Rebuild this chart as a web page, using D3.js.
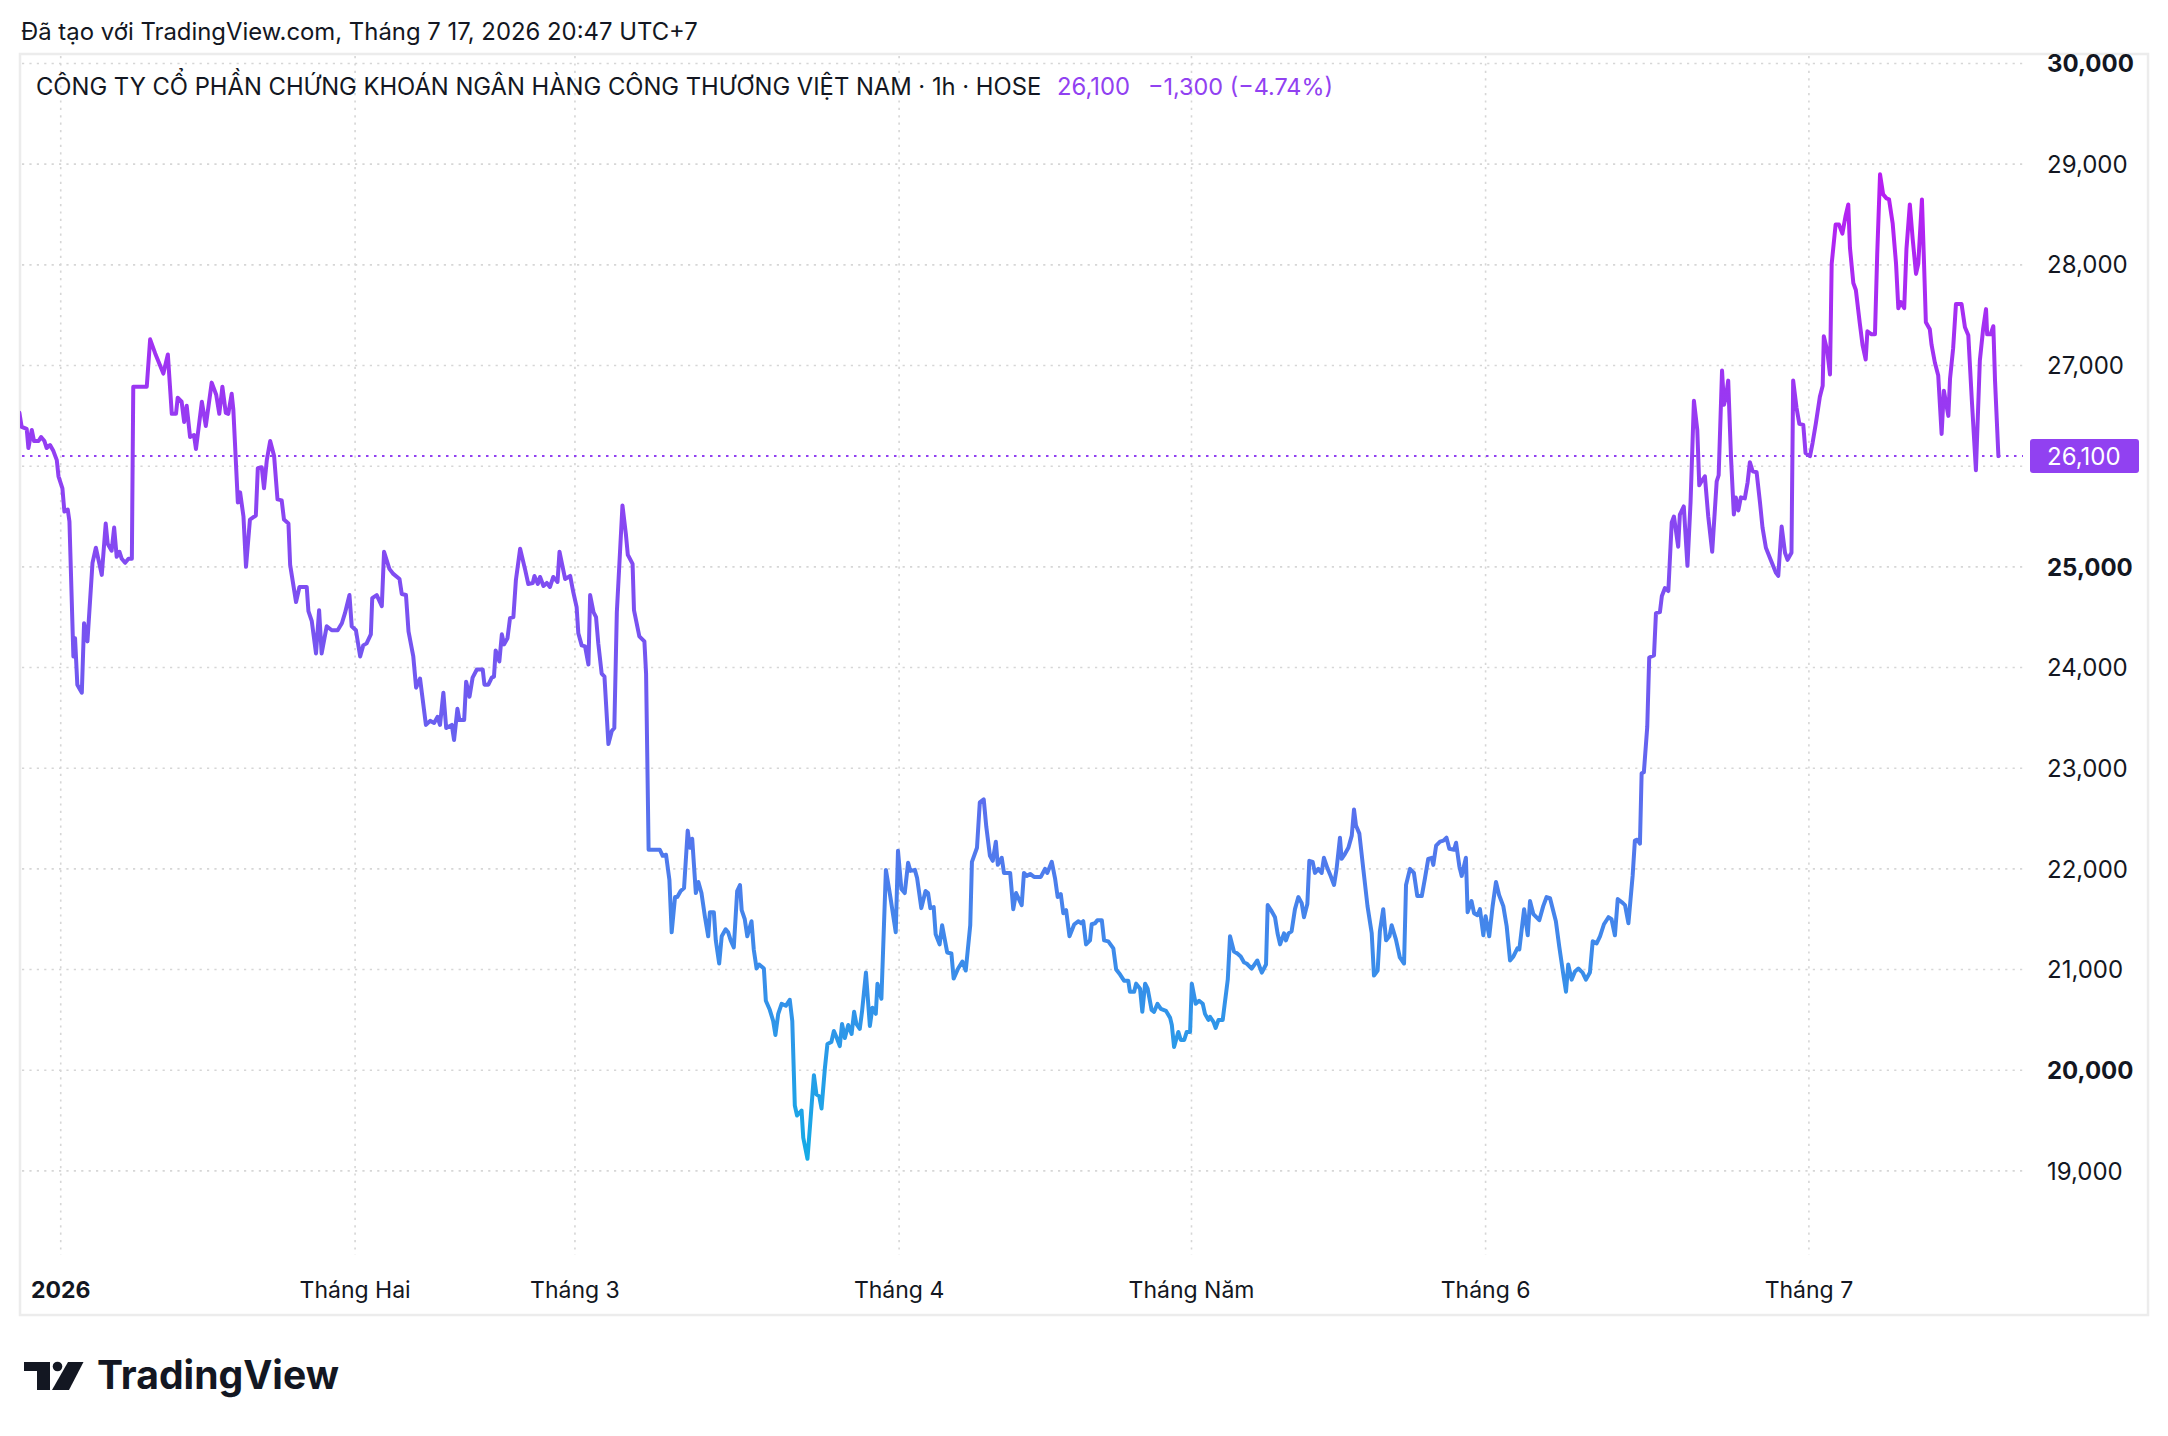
<!DOCTYPE html>
<html>
<head>
<meta charset="utf-8">
<script src="https://cdn.jsdelivr.net/npm/d3@7"></script>
<style>
    body { margin: 0; background: #fff; }
    svg { display: block; font-family: Inter, "Noto Sans", sans-serif; }
</style>
</head>
<body>
<div class="container"></div>
<script>
// hourly bars counted from the first bar on screen, with the close
const leg1Bars = [0, 0.8, 2.6, 3.2, 4.4, 5.2, 6.8, 7.7, 8.9, 9.7,
    10.9, 12.1, 13.3, 13.9, 15.3, 16.0, 17.2, 17.8, 19.2, 19.8,
    20.6, 22.2, 23.0, 24.2, 26.0, 27.2, 29.3, 30.7, 31.4, 32.8,
    33.7, 34.6, 35.6, 36.4, 37.6, 38.8, 40.0, 40.5, 45.3, 46.5,
    48.3, 51.2, 52.8, 54.2, 55.7, 56.3, 57.7, 58.6, 59.5, 60.7,
    62.1, 62.8, 64.9, 66.3, 68.4, 70.0, 71.1, 72.2, 73.4, 74.3,
    75.5, 76.1, 77.7, 78.5, 79.7, 80.6, 82.0, 84.1, 84.8, 86.2,
    87.0, 88.0, 89.2, 90.6, 91.8, 93.3, 94.1, 95.7, 96.3, 98.4,
    99.6, 102.2, 102.8, 104.0, 105.5, 106.6, 107.5, 109.3, 111.1, 113.2,
    114.7, 115.8];
const leg1Close = [26530, 26390, 26370, 26180, 26360, 26250, 26250, 26290, 26250, 26180,
    26210, 26150, 26060, 25900, 25780, 25550, 25570, 25450, 24110, 24290,
    23830, 23750, 24440, 24260, 25040, 25190, 24920, 25430, 25230, 25160,
    25390, 25100, 25150, 25080, 25040, 25080, 25080, 26790, 26790, 27260,
    27120, 26920, 27110, 26520, 26520, 26680, 26640, 26440, 26600, 26290,
    26310, 26170, 26640, 26400, 26830, 26710, 26520, 26790, 26530, 26520,
    26720, 26560, 25640, 25740, 25500, 25000, 25470, 25510, 25980, 25990,
    25780, 26060, 26250, 26100, 25670, 25660, 25470, 25430, 25020, 24650,
    24800, 24800, 24560, 24460, 24140, 24570, 24140, 24410, 24370, 24370,
    24440, 24540];

const leg2Bars = [117.4, 118.2, 119.7, 121.2, 122.3, 123.5, 125.0, 125.5, 127.1, 128.9,
    129.7, 131.6, 133.0, 135.2, 136.0, 137.5, 138.4, 140.1, 141.1, 142.5,
    144.6, 146.1, 147.5, 148.7, 149.6, 150.8, 151.8, 153.8, 154.6, 155.8,
    156.5, 158.2, 158.9, 160.1, 161.2, 162.7, 164.8, 165.4, 166.8, 168.0,
    168.8, 169.4, 170.7, 171.6, 172.4, 173.6, 174.5, 175.7, 176.6, 178.1,
    179.9, 181.0, 182.6, 183.2, 184.4, 185.2, 186.4, 187.6, 188.7, 189.9,
    191.4, 192.1, 194.1, 195.9, 197.0, 198.2, 198.8, 200.0, 201.2, 202.4,
    203.0, 204.2, 205.1, 205.9, 207.1, 208.1, 209.5, 210.7, 211.6, 212.5,
    214.5, 215.7, 216.4, 218.1, 218.6, 220.5, 222.3, 222.9, 223.8];
const leg2Close = [24720, 24410, 24370, 24110, 24220, 24240, 24330, 24690, 24720, 24610,
    25150, 24980, 24930, 24880, 24730, 24720, 24360, 24110, 23800, 23890,
    23430, 23470, 23450, 23510, 23430, 23750, 23400, 23430, 23280, 23590,
    23480, 23480, 23860, 23710, 23900, 23980, 23980, 23830, 23830, 23900,
    23910, 24170, 24060, 24330, 24230, 24290, 24490, 24500, 24870, 25180,
    24970, 24830, 24840, 24910, 24830, 24900, 24810, 24840, 24800, 24900,
    24850, 25150, 24880, 24910, 24750, 24600, 24340, 24220, 24210, 24030,
    24720, 24550, 24500, 24240, 23940, 23910, 23240, 23370, 23400, 24550,
    25610, 25330, 25120, 25030, 24570, 24310, 24260, 23940, 22190];

const leg3Bars = [227.8, 228.8, 230.0, 231.2, 232.0, 233.2, 234.0, 235.2, 236.4, 237.7,
    238.5, 239.3, 240.6, 241.5, 242.6, 243.8, 245.0, 245.6, 247.0, 247.7,
    248.9, 249.8, 251.2, 252.1, 253.0, 254.1, 255.3, 256.3, 256.9, 258.0,
    258.9, 260.4, 261.2, 262.2, 263.1, 264.8, 265.5, 266.9, 268.1, 268.9,
    269.9, 271.1, 272.6, 274.0, 274.9, 275.8, 276.6, 278.2, 278.8, 280.3,
    282.6, 283.5, 284.5, 285.3, 286.5, 287.4, 288.8, 289.7, 290.6, 291.8,
    292.6, 293.6, 294.8, 296.0, 296.9, 297.7, 298.9, 299.7, 301.1, 302.5,
    303.4, 304.6, 305.2, 306.6, 308.2, 309.8, 311.7, 312.5, 313.7, 314.9,
    316.1, 316.9, 318.5, 319.3, 320.8, 322.3, 323.2, 324.0, 325.2, 325.9,
    327.3, 328.2, 330.0, 331.5, 332.3, 333.9, 335.4, 336.6, 338.2, 338.8,
    340.6, 341.6, 343.0, 343.9];
const leg3Close = [22190, 22130, 22140, 21890, 21370, 21720, 21720, 21780, 21810, 22380,
    22210, 22300, 21760, 21870, 21760, 21530, 21330, 21570, 21570, 21290,
    21060, 21330, 21400, 21370, 21290, 21220, 21780, 21840, 21590, 21500,
    21330, 21480, 21200, 21010, 21050, 21010, 20690, 20600, 20490, 20350,
    20560, 20660, 20640, 20700, 20490, 19650, 19550, 19600, 19330, 19120,
    19950, 19760, 19740, 19620, 20020, 20260, 20280, 20390, 20330, 20240,
    20460, 20320, 20450, 20360, 20580, 20460, 20410, 20580, 20970, 20440,
    20620, 20560, 20860, 20710, 21990, 21720, 21370, 22180, 21800, 21760,
    22060, 21980, 21990, 21910, 21610, 21780, 21760, 21610, 21620, 21350,
    21250, 21440, 21170, 21160, 20910, 21010, 21080, 20990, 21440, 22070,
    22210, 22660, 22690, 22420];

const leg4Bars = [345.2, 346.2, 347.3, 348.0, 349.4, 350.2, 352.4, 353.5, 354.5, 356.5,
    357.3, 358.3, 359.5, 360.9, 363.3, 364.8, 365.6, 367.2, 368.4, 369.3,
    370.4, 371.3, 372.3, 373.5, 375.2, 376.7, 377.6, 378.4, 379.4, 380.8,
    381.4, 382.6, 383.4, 385.0, 385.8, 387.3, 389.1, 390.1, 391.5, 392.9,
    394.4, 395.0, 396.5, 397.2, 398.6, 399.4, 400.4, 401.3, 402.7, 403.6,
    404.8, 406.0, 407.8, 409.3, 409.9, 410.7, 412.2, 413.1, 414.3, 415.2,
    416.4, 417.0, 418.4, 419.6, 420.9, 421.7, 422.9, 423.5, 424.7, 425.5,
    426.5, 428.0, 429.8, 430.6, 432.0, 433.2, 434.4, 435.6, 436.5, 438.3,
    440.3, 441.9, 443.4, 444.0, 445.4, 446.6, 447.5, 448.4, 449.8, 450.5,
    451.4, 452.5, 453.7, 454.9, 456.1, 456.9, 458.1, 458.8];
const leg4Close = [22130, 22080, 22270, 22040, 22110, 21960, 21960, 21600, 21760, 21640,
    21960, 21930, 21950, 21920, 21920, 22000, 21960, 22070, 21900, 21720,
    21750, 21560, 21590, 21330, 21450, 21480, 21460, 21480, 21250, 21290,
    21450, 21460, 21490, 21490, 21290, 21280, 21210, 21000, 20950, 20890,
    20890, 20780, 20780, 20860, 20810, 20580, 20860, 20810, 20600, 20580,
    20660, 20610, 20590, 20520, 20450, 20230, 20380, 20300, 20300, 20380,
    20380, 20860, 20660, 20690, 20660, 20560, 20500, 20530, 20480, 20420,
    20500, 20500, 20900, 21330, 21180, 21160, 21130, 21070, 21060, 21010,
    21090, 20970, 21050, 21640, 21580, 21520, 21360, 21250, 21360, 21290,
    21360, 21380, 21600, 21720, 21660, 21520, 21650, 22080];

const leg5Bars = [460.0, 460.8, 462.0, 463.2, 464.0, 465.2, 466.4, 467.6, 468.5, 469.7,
    470.3, 471.5, 472.7, 473.9, 474.7, 475.4, 476.6, 478.0, 479.5, 481.0,
    481.8, 483.1, 483.9, 485.1, 486.1, 487.3, 488.1, 489.6, 491.0, 492.5,
    493.2, 494.6, 496.0, 497.2, 498.8, 499.9, 501.1, 502.3, 502.9, 503.9,
    505.3, 506.5, 507.6, 508.6, 510.3, 511.0, 512.2, 513.0, 514.5, 515.1,
    516.5, 517.4, 518.6, 519.5, 520.7, 521.5, 522.8, 524.0, 525.2, 526.3,
    527.8, 529.0, 530.2, 531.4, 532.8, 533.5, 535.2, 536.5, 537.3, 538.5,
    540.6, 542.0, 543.2, 544.4, 546.5, 547.7, 549.1, 550.1, 550.9, 552.1,
    553.3, 554.5, 556.0, 557.2, 558.6, 559.6, 561.0, 562.2, 563.6, 565.2,
    566.3, 567.5, 568.5, 569.9, 571.1, 572.3];
const leg5Close = [22070, 21960, 22000, 21960, 22110, 22010, 21930, 21840, 22000, 22310,
    22100, 22150, 22210, 22330, 22590, 22430, 22350, 22000, 21630, 21360,
    20940, 20990, 21380, 21600, 21290, 21330, 21440, 21300, 21120, 21060,
    21840, 22000, 21960, 21730, 21730, 21900, 22100, 22110, 22040, 22230,
    22270, 22280, 22310, 22200, 22190, 22260, 22020, 21930, 22110, 21570,
    21680, 21560, 21540, 21600, 21340, 21530, 21330, 21630, 21870, 21740,
    21630, 21430, 21090, 21130, 21210, 21200, 21600, 21340, 21680, 21550,
    21490, 21630, 21720, 21710, 21480, 21230, 20960, 20780, 21050, 20900,
    20980, 21010, 20970, 20900, 20970, 21280, 21260, 21330, 21450, 21520,
    21500, 21340, 21700, 21670, 21640, 21460];

const leg6Bars = [573.8, 574.6, 575.4, 576.4, 577.0, 577.8, 579.0, 579.7, 581.4, 582.1,
    583.5, 584.2, 585.3, 586.5, 587.7, 588.5, 590.0, 590.6, 592.0, 593.3,
    594.4, 595.6, 596.8, 597.5, 598.3, 599.5, 600.7, 602.1, 603.7, 604.4,
    605.6, 606.3, 607.0, 607.8, 608.8, 609.8, 610.5, 611.4, 612.3, 613.7,
    614.7, 615.5, 616.5, 617.9, 619.1, 620.0, 621.2, 622.9, 624.8, 625.6,
    626.8, 628.0, 628.9, 630.3, 630.9, 632.1, 633.1, 634.5, 635.3, 636.9,
    637.8, 639.0, 640.4, 641.4, 641.8, 643.0, 644.0, 644.6, 646.0, 647.2,
    648.4, 649.5, 650.5, 651.1, 652.3, 653.2, 654.6, 655.6, 656.7, 657.3,
    658.8, 660.0, 660.8, 661.8, 662.9, 664.1, 665.0, 666.3, 667.5, 668.3,
    669.2, 670.4, 671.2, 672.4, 673.4, 674.6, 675.4, 676.7, 677.4, 678.1,
    679.5, 680.1, 681.3, 682.5, 683.7, 684.5, 686.1, 686.7, 687.8, 688.8,
    690.8, 692.0, 693.2, 694.4, 695.9, 697.3, 698.5, 699.5, 699.9, 701.1,
    702.1, 702.7, 703.9];
const leg6Close = [21930, 22280, 22290, 22250, 22950, 22960, 23410, 24100, 24120, 24540,
    24550, 24710, 24790, 24760, 25440, 25500, 25200, 25520, 25600, 25010,
    25640, 26650, 26360, 25810, 25850, 25900, 25500, 25150, 25850, 25910,
    26950, 26610, 26690, 26850, 26080, 25520, 25690, 25560, 25690, 25680,
    25840, 26040, 25950, 25940, 25640, 25390, 25190, 25070, 24940, 24910,
    25400, 25140, 25070, 25140, 26850, 26580, 26420, 26410, 26130, 26100,
    26230, 26430, 26690, 26800, 27290, 27150, 26910, 28010, 28400, 28400,
    28310, 28480, 28600, 28170, 27820, 27750, 27420, 27200, 27060, 27340,
    27310, 27310, 28110, 28900, 28700, 28660, 28650, 28410, 28010, 27570,
    27630, 27570, 28160, 28600, 28260, 27910, 28010, 28650, 28060, 27430,
    27360, 27210, 27030, 26900, 26320, 26750, 26500, 26870, 27170, 27610,
    27610, 27380, 27300, 26680, 25960, 27050, 27370, 27560, 27310, 27310,
    27390, 26850, 26100];

const priceTicks = [19000, 20000, 21000, 22000, 23000, 24000, 25000, 26000, 27000, 28000, 29000, 30000];
const boldTicks = [20000, 25000, 30000];
const monthLabels = ["2026", "Tháng Hai", "Tháng 3", "Tháng 4", "Tháng Năm", "Tháng 6", "Tháng 7"];
const monthStartBars = [14.7, 119.4, 197.6, 312.9, 416.9, 521.5, 636.5];

const createdText = "Đã tạo với TradingView.com, Tháng 7 17, 2026 20:47 UTC+7";
const symbolText = "CÔNG TY CỔ PHẦN CHỨNG KHOÁN NGÂN HÀNG CÔNG THƯƠNG VIỆT NAM · 1h · HOSE";
const lastClose = 26100, changeAbs = -1300, changePct = -4.74;

const render = () => {
    const width = 2168, height = 1436,
        frame = {left: 20, top: 54, right: 2148, bottom: 1315},
        plot = {left: 20, right: 2023, top: 54, bottom: 1255},
        ink = "#131722",
        purple = "#9141f1",
        fmt = d3.format(",");

    const bars = [].concat(leg1Bars, leg2Bars, leg3Bars, leg4Bars, leg5Bars, leg6Bars),
        closes = [].concat(leg1Close, leg2Close, leg3Close, leg4Close, leg5Close, leg6Close),
        points = bars.map((b, i) => ({bar: b, close: closes[i]}));

    const svg = d3.select('.container')
        .append('svg')
        .attr('width', width)
        .attr('height', height);

    const x = d3.scaleLinear().domain([0, d3.max(bars)]).range([19.4, 1998.4]),
        y = d3.scaleLinear().domain([19000, 30000]).range([1170.9, 63.5]);

    svg.append('rect')
        .attr('x', frame.left).attr('y', frame.top)
        .attr('width', frame.right - frame.left).attr('height', frame.bottom - frame.top)
        .attr('fill', '#fff').attr('stroke', '#ececec').attr('stroke-width', 2.5);

    // dotted grid
    svg.append('g').selectAll('line')
        .data(priceTicks)
        .enter().append('line')
        .attr('x1', plot.left + 2).attr('x2', plot.right)
        .attr('y1', d => y(d)).attr('y2', d => y(d))
        .attr('stroke', '#d6d6d6').attr('stroke-width', 1.6)
        .attr('stroke-dasharray', '2.2,5.2');

    svg.append('g').selectAll('line')
        .data(monthStartBars)
        .enter().append('line')
        .attr('x1', d => x(d)).attr('x2', d => x(d))
        .attr('y1', plot.top + 2).attr('y2', plot.bottom)
        .attr('stroke', '#d6d6d6').attr('stroke-width', 1.6)
        .attr('stroke-dasharray', '2.2,5.2');

    // line colour follows price: violet at the top, sky blue at the bottom
    const hi = d3.max(closes), lo = d3.min(closes);
    const grad = svg.append('defs').append('linearGradient')
        .attr('id', 'priceGrad')
        .attr('gradientUnits', 'userSpaceOnUse')
        .attr('x1', 0).attr('x2', 0)
        .attr('y1', y(hi)).attr('y2', y(lo));
    [[0, '#b81ef2'], [0.3, '#9040f2'], [0.55, '#6b5df0'], [0.75, '#4584eb'], [1, '#14abe6']]
        .forEach(s => grad.append('stop').attr('offset', s[0]).attr('stop-color', s[1]));

    svg.select('defs').append('clipPath').attr('id', 'plotClip')
        .append('rect')
        .attr('x', plot.left).attr('y', plot.top)
        .attr('width', plot.right - plot.left).attr('height', plot.bottom - plot.top);

    // last price line
    svg.append('line')
        .attr('x1', plot.left + 2).attr('x2', plot.right)
        .attr('y1', y(lastClose)).attr('y2', y(lastClose))
        .attr('stroke', purple).attr('stroke-width', 2)
        .attr('stroke-dasharray', '2.5,5.5');

    const line = d3.line()
        .x(d => x(d.bar))
        .y(d => y(d.close));

    svg.append('path')
        .datum(points)
        .attr('clip-path', 'url(#plotClip)')
        .attr('d', line)
        .attr('fill', 'none')
        .attr('stroke', 'url(#priceGrad)')
        .attr('stroke-width', 4)
        .attr('stroke-linejoin', 'round')
        .attr('stroke-linecap', 'round');

    // price scale; the tick hidden under the last price label is left out
    svg.append('g').selectAll('text')
        .data(priceTicks.filter(t => Math.abs(y(t) - y(lastClose)) > 34))
        .enter().append('text')
        .attr('x', 2047)
        .attr('y', d => y(d))
        .attr('dy', '0.36em')
        .attr('font-size', 24)
        .attr('font-weight', d => boldTicks.includes(d) ? 700 : 400)
        .attr('fill', ink)
        .text(d => fmt(d));

    svg.append('rect')
        .attr('x', 2030).attr('y', y(lastClose) - 17)
        .attr('width', 109).attr('height', 34)
        .attr('rx', 3)
        .attr('fill', purple);
    svg.append('text')
        .attr('x', 2047).attr('y', y(lastClose)).attr('dy', '0.36em')
        .attr('font-size', 24).attr('fill', '#fff')
        .text(fmt(lastClose));

    // time scale
    svg.append('g').selectAll('text')
        .data(monthStartBars)
        .enter().append('text')
        .attr('x', d => x(d))
        .attr('y', 1298)
        .attr('text-anchor', 'middle')
        .attr('font-size', 23)
        .attr('font-weight', (d, i) => i === 0 ? 700 : 400)
        .attr('fill', ink)
        .text((d, i) => monthLabels[i]);

    // fit a text to the width it has in the picture
    const fitText = (sel, target) => {
        const len = sel.node().getComputedTextLength(),
            size = +sel.attr('font-size');
        sel.attr('font-size', (size * target / len).toFixed(2));
        return sel;
    };

    fitText(svg.append('text')
        .attr('x', 21).attr('y', 40)
        .attr('font-size', 21).attr('fill', ink)
        .text(createdText), 677);

    fitText(svg.append('text')
        .attr('x', 36).attr('y', 95)
        .attr('font-size', 23).attr('fill', ink)
        .text(symbolText), 1006);
    fitText(svg.append('text')
        .attr('x', 1057).attr('y', 95)
        .attr('font-size', 23).attr('fill', purple)
        .text(fmt(lastClose)), 73);
    fitText(svg.append('text')
        .attr('x', 1148).attr('y', 95)
        .attr('font-size', 23).attr('fill', purple)
        .text(`−${fmt(Math.abs(changeAbs))} (−${Math.abs(changePct).toFixed(2)}%)`), 185);

    // TradingView mark and wordmark
    const logo = svg.append('g').attr('fill', ink);
    logo.append('path')
        .attr('d', 'M24,1362 H50 V1390 H37 V1371 H24 Z');
    logo.append('circle').attr('cx', 57.5).attr('cy', 1366.5).attr('r', 4.8);
    logo.append('path')
        .attr('d', 'M68,1362 H83.5 L69,1390 H52 Z');
    fitText(logo.append('text')
        .attr('x', 97).attr('y', 1389)
        .attr('font-size', 37).attr('font-weight', 700)
        .text('TradingView'), 242);
};

render();
</script>
</body>
</html>
